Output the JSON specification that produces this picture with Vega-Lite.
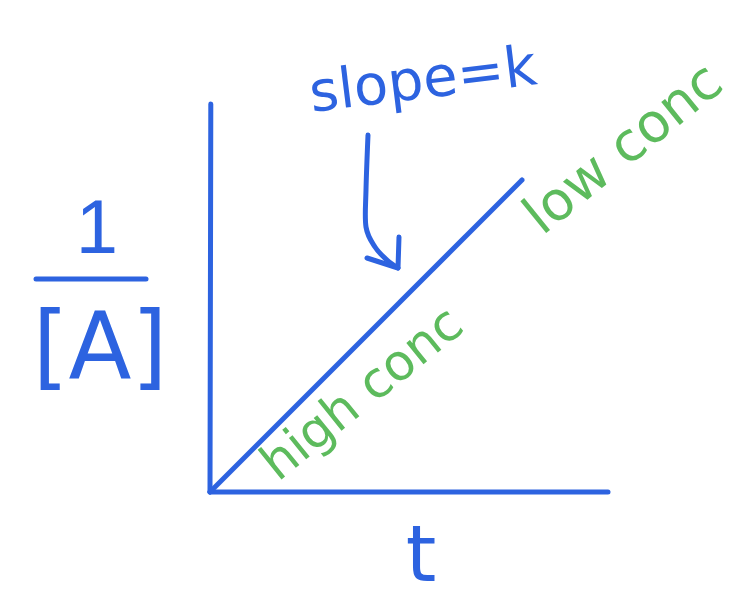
{
  "$schema": "https://vega.github.io/schema/vega-lite/v6.json",
  "width": 745,
  "height": 609,
  "autosize": {"type": "fit", "contains": "padding"},
  "padding": 0,
  "background": "white",
  "config": {
    "view": {"stroke": null},
    "axis": {"disable": true}
  },
  "datasets": {
    "strokes": [
      {"stroke": "yaxis", "i": 0, "x": 0.02, "y": 9.7},
      {"stroke": "yaxis", "i": 1, "x": 0, "y": 0},
      {"stroke": "xaxis", "i": 0, "x": 0, "y": 0},
      {"stroke": "xaxis", "i": 1, "x": 9.95, "y": 0},
      {"stroke": "slope", "i": 0, "x": 0, "y": 0},
      {"stroke": "slope", "i": 1, "x": 7.8, "y": 7.8},
      {"stroke": "frac", "i": 0, "x": -4.35, "y": 5.325},
      {"stroke": "frac", "i": 1, "x": -1.6, "y": 5.325},
      {"stroke": "head", "i": 0, "x": 3.925, "y": 5.85},
      {"stroke": "head", "i": 1, "x": 4.7, "y": 5.6},
      {"stroke": "head", "i": 2, "x": 4.725, "y": 6.375},
      {"stroke": "shaft", "i": 0, "x": 3.95, "y": 8.925},
      {"stroke": "shaft", "i": 1, "x": 3.9, "y": 7.55},
      {"stroke": "shaft", "i": 2, "x": 3.9, "y": 6.625},
      {"stroke": "shaft", "i": 3, "x": 4.125, "y": 6.125},
      {"stroke": "shaft", "i": 4, "x": 4.425, "y": 5.8},
      {"stroke": "shaft", "i": 5, "x": 4.7, "y": 5.6}
    ],
    "labels": [
      {"label": "slope=k", "x": 5.375, "y": 9.85},
      {"label": "1", "x": -2.825, "y": 5.975},
      {"label": "[A]", "x": -2.75, "y": 2.85},
      {"label": "t", "x": 5.275, "y": -2.225},
      {"label": "high conc", "x": 4.05, "y": 2.15},
      {"label": "low conc", "x": 10.6, "y": 8.25}
    ]
  },
  "encoding": {
    "x": {"field": "x", "type": "quantitative", "scale": {"domain": [-5.25, 13.375], "nice": false, "zero": false}},
    "y": {"field": "y", "type": "quantitative", "scale": {"domain": [-2.925, 12.3], "nice": false, "zero": false}}
  },
  "layer": [
    {
      "data": {"name": "strokes"},
      "transform": [{"filter": "datum.stroke != 'shaft'"}],
      "mark": {"type": "line", "color": "#2d63e0", "strokeWidth": 5, "strokeCap": "round", "strokeJoin": "round"},
      "encoding": {
        "detail": {"field": "stroke"},
        "order": {"field": "i", "type": "quantitative"}
      }
    },
    {
      "data": {"name": "strokes"},
      "transform": [{"filter": "datum.stroke == 'shaft'"}],
      "mark": {"type": "line", "color": "#2d63e0", "strokeWidth": 5, "strokeCap": "round", "interpolate": "cardinal"},
      "encoding": {
        "order": {"field": "i", "type": "quantitative"}
      }
    },
    {
      "data": {"name": "labels"},
      "transform": [{"filter": "datum.label == 'slope=k'"}],
      "mark": {"type": "text", "font": "DejaVu Sans", "fontSize": 56, "color": "#2d63e0", "align": "center", "baseline": "alphabetic", "angle": -7},
      "encoding": {"text": {"field": "label"}}
    },
    {
      "data": {"name": "labels"},
      "transform": [{"filter": "datum.label == '1'"}],
      "mark": {"type": "text", "font": "Liberation Sans", "fontSize": 76, "color": "#2d63e0", "align": "center", "baseline": "alphabetic"},
      "encoding": {"text": {"field": "label"}}
    },
    {
      "data": {"name": "labels"},
      "transform": [{"filter": "datum.label == '[A]'"}],
      "mark": {"type": "text", "font": "DejaVu Sans", "fontSize": 92, "color": "#2d63e0", "align": "center", "baseline": "alphabetic"},
      "encoding": {"text": {"field": "label"}}
    },
    {
      "data": {"name": "labels"},
      "transform": [{"filter": "datum.label == 't'"}],
      "mark": {"type": "text", "font": "DejaVu Sans", "fontSize": 78, "color": "#2d63e0", "align": "center", "baseline": "alphabetic"},
      "encoding": {"text": {"field": "label"}}
    },
    {
      "data": {"name": "labels"},
      "transform": [{"filter": "datum.label == 'high conc'"}],
      "mark": {"type": "text", "font": "DejaVu Sans", "fontSize": 50, "color": "#5dbb5d", "align": "center", "baseline": "alphabetic", "angle": -39},
      "encoding": {"text": {"field": "label"}}
    },
    {
      "data": {"name": "labels"},
      "transform": [{"filter": "datum.label == 'low conc'"}],
      "mark": {"type": "text", "font": "DejaVu Sans", "fontSize": 54, "color": "#5dbb5d", "align": "center", "baseline": "alphabetic", "angle": -39},
      "encoding": {"text": {"field": "label"}}
    }
  ]
}
